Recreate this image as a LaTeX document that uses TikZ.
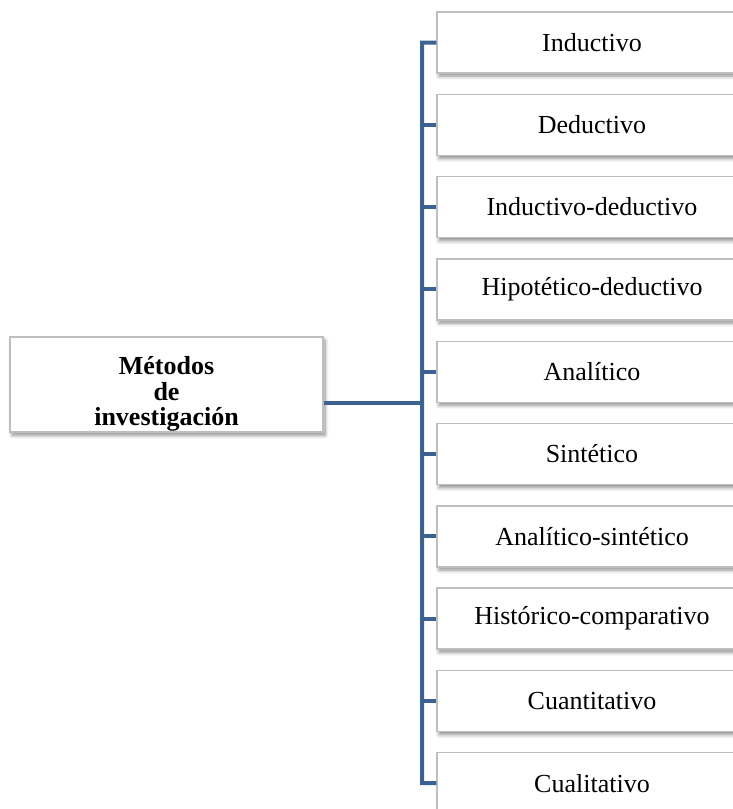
\documentclass[tikz,border=0pt]{standalone}
\usepackage{fontspec}
\setmainfont{Liberation Serif}
\usetikzlibrary{shadows.blur}
\definecolor{busblue}{RGB}{60,98,148}
\definecolor{boxgray}{RGB}{190,190,190}
\tikzset{
  bx/.style={draw=boxgray, line width=0.7pt, fill=white, rectangle, inner sep=0pt,
    blur shadow={shadow xshift=1pt, shadow yshift=-1.6pt, shadow blur steps=6, shadow opacity=45},
    font=\fontsize{13}{14}\selectfont},
  rbox/.style={bx, minimum width=155pt, minimum height=30.5pt},
  mbox/.style={bx, minimum width=156.5pt, minimum height=47.5pt, font=\fontsize{13}{12.6}\selectfont\bfseries},
  bus/.style={draw=busblue, line width=2pt, line join=miter}
}
\begin{document}
\begin{tikzpicture}[x=0.5pt,y=-0.5pt]
\useasboundingbox (0,0) rectangle (733,809);
\clip (0,0) rectangle (733,809);
\node[mbox] (main) at (166.5,384.5) {\raisebox{-8.2pt}[0pt][0pt]{\begin{tabular}[c]{@{}c@{}}Métodos\\de\\investigación\end{tabular}}};
\foreach \i/\t in {0/Inductivo,1/Deductivo,2/Inductivo-deductivo,3/Hipotético-deductivo,4/Analítico,5/Sintético,6/Analítico-sintético,7/Histórico-comparativo,8/Cuantitativo,9/Cualitativo}{
  \node[rbox] (b\i) at (592,{42.5+82.3*\i}) {\t};
}
\coordinate (bt) at (422,42.5);
\coordinate (bb) at (422,783.2);
\coordinate (j) at (422,403);
\draw[bus] (b0.west) -- (bt) -- (bb) -- (b9.west);
\foreach \i in {1,...,8}{
  \draw[bus] (b\i.west) -- (b\i.west -| bt);
}
\draw[bus] (main.east |- j) -- (j);
\end{tikzpicture}
\end{document}
